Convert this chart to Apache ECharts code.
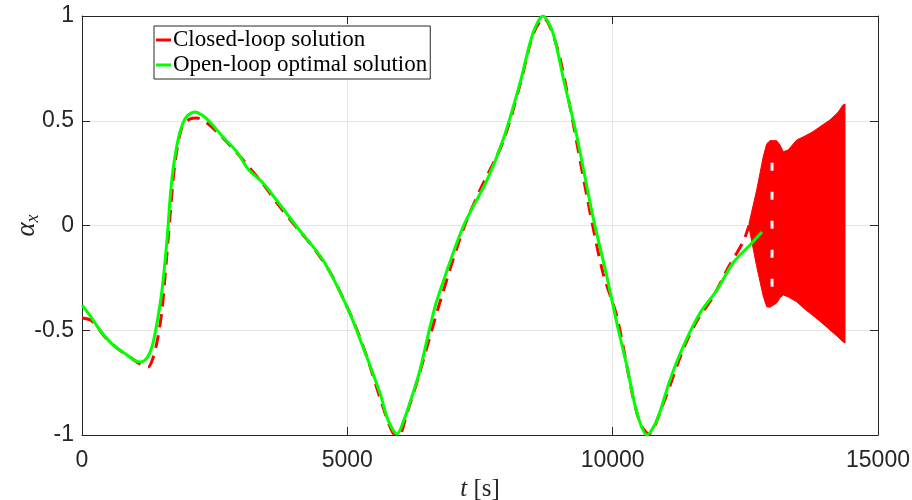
<!DOCTYPE html>
<html>
<head>
<meta charset="utf-8">
<script src="https://cdn.jsdelivr.net/npm/echarts@6/dist/echarts.min.js"></script>
<style>
  html, body { margin: 0; padding: 0; background: #ffffff; }
  #chart { width: 912px; height: 500px; }
</style>
</head>
<body>
<div id="chart"></div>
<script>
// Closed-loop response (red dashed) before the oscillating tail
const closedLoopTime = [0, 188, 433, 678, 905, 1093, 1244, 1338, 1432, 1508, 1564, 1658, 1752, 1884, 2035, 2167,
  2356, 2657, 2921, 3411, 3675, 4051, 4353, 4673, 4918, 5144, 5370, 5672, 5860, 5973, 6124, 6313, 6501, 6746,
  7180, 7500, 7933, 8254, 8499, 8700, 8951, 9196, 9517, 9818, 10082, 10383, 10530, 10680, 10930, 11325, 11600,
  11891, 12173, 12456, 12570];
const closedLoopAlpha = [-0.442, -0.456, -0.532, -0.589, -0.628, -0.661, -0.675, -0.632, -0.532, -0.403, -0.246,
  0.041, 0.298, 0.470, 0.508, 0.513, 0.489, 0.418, 0.346, 0.198, 0.107, -0.012, -0.103, -0.222, -0.346, -0.475,
  -0.628, -0.866, -0.990, -1.0, -0.895, -0.747, -0.580, -0.365, -0.021, 0.169, 0.399, 0.671, 0.910, 0.99, 0.852,
  0.566, 0.136, -0.227, -0.437, -0.819, -0.95, -0.995, -0.866, -0.594, -0.45, -0.341, -0.203, -0.079, 0.0];

// Open-loop optimal trajectory (green)
const openLoopTime = [0, 151, 339, 584, 848, 1000, 1100, 1225, 1319, 1413, 1508, 1602, 1658, 1715, 1809, 1903, 1997,
  2129, 2261, 2412, 2657, 2921, 3128, 3411, 3750, 4051, 4541, 4994, 5295, 5615, 5766, 5936, 6087, 6237, 6369,
  6558, 6690, 7180, 7632, 7933, 8254, 8499, 8687, 8875, 9064, 9328, 9629, 9893, 10082, 10270, 10458, 10647,
  10835, 11080, 11325, 11646, 11966, 12267, 12588, 12814];
const openLoopAlpha = [-0.38, -0.43, -0.50, -0.570, -0.618, -0.645, -0.652, -0.632, -0.580, -0.465, -0.308, -0.069,
  0.122, 0.265, 0.408, 0.489, 0.527, 0.542, 0.527, 0.494, 0.422, 0.351, 0.27, 0.203, 0.093, -0.007, -0.165,
  -0.389, -0.580, -0.800, -0.928, -0.995, -0.914, -0.800, -0.690, -0.484, -0.356, -0.007, 0.217, 0.408, 0.680,
  0.919, 1.0, 0.919, 0.709, 0.422, 0.041, -0.246, -0.47, -0.673, -0.895, -1.0, -0.928, -0.737, -0.580, -0.418,
  -0.308, -0.179, -0.093, -0.031];

// Envelope of the fast closed-loop oscillation at the end of the run
const oscTime  = [12570, 12714, 12839, 12903, 12965, 13091, 13153, 13215, 13304, 13468, 13624, 13775, 13945,
  14096, 14246, 14340, 14378];
const oscUpper = [0.01, 0.17, 0.33, 0.39, 0.405, 0.405, 0.384, 0.352, 0.36, 0.408, 0.427, 0.448, 0.478, 0.504,
  0.54, 0.575, 0.58];
const oscLower = [-0.01, -0.196, -0.339, -0.388, -0.39, -0.37, -0.345, -0.332, -0.34, -0.364, -0.40, -0.43,
  -0.465, -0.499, -0.532, -0.555, -0.561];
// Column where the dashed pattern leaves gaps inside the oscillation
const oscGapTime = 13003;
const oscGapRange = [-0.30, 0.30];

const xTicks = { min: 0, max: 15000, step: 5000 };
const yTicks = { min: -1, max: 1, step: 0.5 };

const seriesNames = ['Closed-loop solution', 'Open-loop optimal solution'];

const AXIS_COLOR = '#262626';
const GRID_COLOR = '#e3e3e3';
const RED = '#ff0000';
const GREEN = '#00ff00';

const zip = (xs, ys) => xs.map((x, i) => [x, ys[i]]);

const baseAxis = {
  axisLine: { show: true, onZero: false, lineStyle: { color: AXIS_COLOR, width: 1 } },
  axisTick: { show: true, inside: true, length: 8, lineStyle: { color: AXIS_COLOR, width: 1 } }
};

const chart = echarts.init(document.getElementById('chart'), null, { renderer: 'canvas' });

chart.setOption({
  animation: false,
  backgroundColor: '#ffffff',
  grid: { left: 82, right: 34, top: 16, bottom: 65, containLabel: false, outerBoundsMode: 'none' },
  legend: {
    data: seriesNames,
    orient: 'vertical',
    left: 154,
    top: 26,
    padding: [2, 3, 2, 2],
    itemGap: 1,
    itemWidth: 15,
    itemHeight: 3,
    icon: 'rect',
    backgroundColor: '#ffffff',
    borderColor: AXIS_COLOR,
    borderWidth: 1,
    borderRadius: 0,
    textStyle: { fontFamily: 'Liberation Serif', fontSize: 23, color: '#000000', lineHeight: 24, padding: [0, 0, 0, -3] }
  },
  xAxis: [
    Object.assign({}, baseAxis, {
      type: 'value', position: 'bottom',
      min: xTicks.min, max: xTicks.max, interval: xTicks.step,
      axisLabel: { color: AXIS_COLOR, fontFamily: 'Liberation Sans', fontSize: 23, margin: 14,
        formatter: v => String(v) },
      splitLine: { show: true, lineStyle: { color: GRID_COLOR, width: 1 } },
      name: '{i|t} [s]',
      nameLocation: 'middle',
      nameGap: 40,
      nameTextStyle: {
        fontFamily: 'Liberation Serif', fontSize: 25, color: AXIS_COLOR,
        rich: { i: { fontFamily: 'Liberation Serif', fontStyle: 'italic', fontSize: 25, color: AXIS_COLOR } }
      }
    }),
    Object.assign({}, baseAxis, {
      type: 'value', position: 'top',
      min: xTicks.min, max: xTicks.max, interval: xTicks.step,
      axisLabel: { show: false }, splitLine: { show: false }
    })
  ],
  yAxis: [
    Object.assign({}, baseAxis, {
      type: 'value', position: 'left',
      min: yTicks.min, max: yTicks.max, interval: yTicks.step,
      axisLabel: { color: AXIS_COLOR, fontFamily: 'Liberation Sans', fontSize: 23, margin: 8 },
      splitLine: { show: true, lineStyle: { color: GRID_COLOR, width: 1 } },
      name: '{a|α}{s|x}',
      nameLocation: 'middle',
      nameGap: 40,
      nameRotate: 90,
      nameMoveOverlap: false,
      nameTextStyle: {
        color: AXIS_COLOR,
        rich: {
          a: { fontFamily: 'Liberation Serif', fontStyle: 'italic', fontSize: 27, color: AXIS_COLOR, lineHeight: 30 },
          s: { fontFamily: 'Liberation Serif', fontStyle: 'italic', fontSize: 18, color: AXIS_COLOR, lineHeight: 30, padding: [12, 0, 0, 0] }
        }
      }
    }),
    Object.assign({}, baseAxis, {
      type: 'value', position: 'right',
      min: yTicks.min, max: yTicks.max, interval: yTicks.step,
      axisLabel: { show: false }, splitLine: { show: false }
    })
  ],
  series: [
    {
      name: seriesNames[0],
      type: 'line',
      data: zip(closedLoopTime, closedLoopAlpha),
      showSymbol: false,
      smooth: 0.3,
      itemStyle: { color: RED },
      lineStyle: { color: RED, width: 3, type: [13, 8] },
      z: 2
    },
    {
      name: 'closed-loop oscillation',
      type: 'custom',
      data: oscTime.map((t, i) => [t, oscUpper[i], oscLower[i]]),
      encode: { x: 0, y: [1, 2] },
      silent: true,
      z: 3,
      renderItem: function (params, api) {
        if (params.dataIndex !== 0) return null;
        const pts = [];
        for (let i = 0; i < oscTime.length; i++) pts.push(api.coord([oscTime[i], oscUpper[i]]));
        for (let i = oscTime.length - 1; i >= 0; i--) pts.push(api.coord([oscTime[i], oscLower[i]]));
        const top = api.coord([oscGapTime, oscGapRange[1]]);
        const bottom = api.coord([oscGapTime, oscGapRange[0]]);
        return {
          type: 'group',
          children: [
            { type: 'polygon', shape: { points: pts }, style: { fill: RED, stroke: RED, lineWidth: 1 } },
            { type: 'line', shape: { x1: top[0], y1: top[1], x2: bottom[0], y2: bottom[1] },
              style: { stroke: '#ffffff', lineWidth: 3, lineDash: [8, 21] } }
          ]
        };
      }
    },
    {
      name: seriesNames[1],
      type: 'line',
      data: zip(openLoopTime, openLoopAlpha),
      showSymbol: false,
      smooth: 0.3,
      itemStyle: { color: GREEN },
      lineStyle: { color: GREEN, width: 3 },
      z: 4
    }
  ]
});
</script>
</body>
</html>
